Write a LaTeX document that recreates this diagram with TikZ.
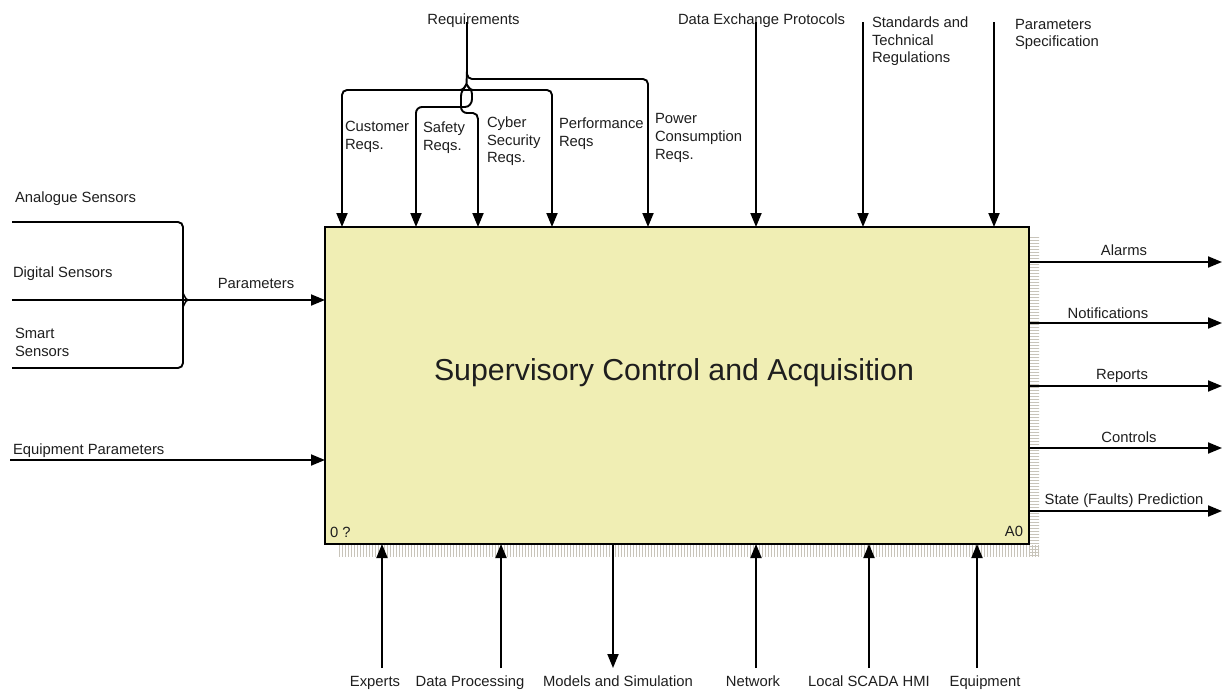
\documentclass[tikz,border=0pt]{standalone}
\usepackage{fontspec}
\setmainfont{Liberation Sans}
\usetikzlibrary{arrows.meta,patterns}
\definecolor{boxfill}{RGB}{240,238,180}
\definecolor{shadowc}{RGB}{200,196,186}
\definecolor{txt}{RGB}{30,30,30}
\begin{document}
\begin{tikzpicture}[x=1pt,y=-1pt,
  lbl/.style={inner sep=0pt,outer sep=0pt,text=txt,font=\fontsize{14.8}{17.8}\selectfont,align=left},
  flow/.style={line width=1.9pt,rounded corners=5pt},
  arr/.style={flow,-{Triangle[length=14pt,width=11pt]}},
  dbl/.style={flow,{Triangle[length=14pt,width=11pt]}-{Triangle[length=14pt,width=11pt]}}]
\useasboundingbox (0,0) rectangle (1223,691);
% shadow
\path[pattern=vertical lines,pattern color=shadowc] (337,545) rectangle (1039,556);
\path[pattern=horizontal lines,pattern color=shadowc] (1030,237) rectangle (1039,556);
% box
\node[draw,line width=2.8pt,fill=boxfill,minimum width=704pt,minimum height=317pt,anchor=north west,inner sep=0pt,outer sep=0pt] (box) at (325,227) {};
\node[inner sep=0pt,text=txt,font=\fontsize{30.3}{35}\selectfont] (title) at (674,373) {Supervisory Control and Acquisition};
\node[lbl,anchor=north west] (num) at (330,527.5) {0 ?};
\node[lbl,anchor=north east] (a0) at (1023,526.5) {A0};

% top labels
\node[lbl,anchor=north] (req) at (473.5,13.5) {Requirements};
\node[lbl,anchor=north] (dep) at (761.5,13.5) {Data Exchange Protocols};
\node[lbl,anchor=north west] (std) at (872,16.5) {Standards and\\Technical\\Regulations};
\node[lbl,anchor=north west] (psp) at (1015,19) {Parameters\\Specification};
\node[lbl,anchor=north west] (cus) at (345,121.5) {Customer\\Reqs.};
\node[lbl,anchor=north west] (saf) at (423,121.5) {Safety\\Reqs.};
\node[lbl,anchor=north west] (cyb) at (487,116.5) {Cyber\\Security\\Reqs.};
\node[lbl,anchor=north west] (per) at (559,117.5) {Performance\\Reqs};
\node[lbl,anchor=north west] (pow) at (655,113.5) {Power\\Consumption\\Reqs.};

% top connectors
\coordinate (r0) at (467,22);
\coordinate (rp) at (466.5,84);
\draw[arr] (r0) -- (467,79) -- (648,79) -- (648,227);
\draw[line width=1.9pt] (467,70) -- (rp);
\draw[dbl] (342,227) -- (342,90) -- (552,90) -- (552,227);
\draw[line width=1.7pt] (459,90) to[out=0,in=-115] (rp) to[out=-65,in=180] (474,90);
\draw[arr,rounded corners=0pt] (rp) to[out=-115,in=90] (461,96) -- (461,107) to[out=-90,in=180] (467,113) -- (473,113) to[out=0,in=90] (478,119) -- (478,227);
\draw[arr,rounded corners=0pt] (rp) to[out=-65,in=90] (472,94) -- (472,99) to[out=-90,in=0] (465,107) -- (422,107) to[out=180,in=90] (416,113) -- (416,227);
\draw[arr] (756,22) -- (756,227);
\draw[arr] (863,22) -- (863,227);
\draw[arr] (994,22) -- (994,227);

% left labels
\node[lbl,anchor=north west] (ana) at (15,191.5) {Analogue Sensors};
\node[lbl,anchor=north west] (dig) at (13,266.5) {Digital Sensors};
\node[lbl,anchor=north west] (sma) at (15,328.5) {Smart\\Sensors};
\node[lbl,anchor=north] (par) at (256,278.5) {Parameters};
\node[lbl,anchor=north west] (eqp) at (13,443.5) {Equipment Parameters};

% left connectors
\draw[flow] (12,222) -- (183,222) -- (183,368) -- (12,368);
\draw[flow] (12,300) -- (183,300);
\draw[line width=1.5pt] (183,294) to[out=90,in=180] (188,300) to[out=180,in=-90] (183,306);
\draw[arr] (183,300) -- (325,300);
\draw[arr] (10,460) -- (325,460);

% right outputs
\node[lbl,anchor=north] (alm) at (1124,244.5) {Alarms};
\node[lbl,anchor=north] (not) at (1108,307.5) {Notifications};
\node[lbl,anchor=north] (rep) at (1122,369.5) {Reports};
\node[lbl,anchor=north] (con) at (1129,431.5) {Controls};
\node[lbl,anchor=north] (sta) at (1124,493.5) {State (Faults) Prediction};
\draw[arr] (1029,262) -- (1222,262);
\draw[arr] (1029,323) -- (1222,323);
\draw[arr] (1029,386) -- (1222,386);
\draw[arr] (1029,448) -- (1222,448);
\draw[arr] (1029,511) -- (1222,511);

% bottom
\node[lbl,anchor=north] (exp) at (375,676) {Experts};
\node[lbl,anchor=north] (dpr) at (470,676) {Data Processing};
\node[lbl,anchor=north] (mod) at (618,676) {Models and Simulation};
\node[lbl,anchor=north] (net) at (753,676) {Network};
\node[lbl,anchor=north] (hmi) at (869,676) {Local SCADA HMI};
\node[lbl,anchor=north] (equ) at (985,676) {Equipment};
\draw[arr] (382,668) -- (382,544);
\draw[arr] (501,668) -- (501,544);
\draw[arr] (613,544) -- (613,668);
\draw[arr] (756,668) -- (756,544);
\draw[arr] (869,668) -- (869,544);
\draw[arr] (977,668) -- (977,544);
\end{tikzpicture}
\end{document}
